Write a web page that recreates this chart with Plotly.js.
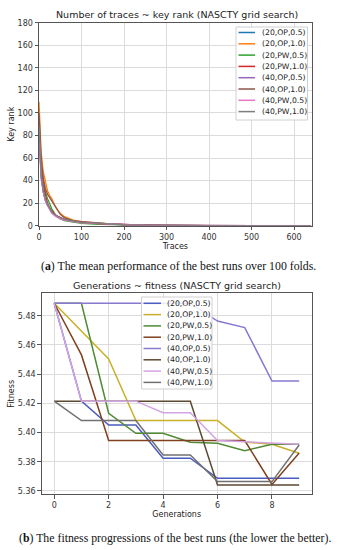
<!DOCTYPE html>
<html>
<head>
<meta charset="utf-8">
<script src="https://cdn.plot.ly/plotly-3.0.1.min.js"></script>
<style>html,body{margin:0;padding:0;background:#fff;}#chart{width:341px;height:550px;}</style>
</head>
<body>
<div id="chart"></div>
<script>
// ---------- data: chart (a) ----------
const seriesNames = ["(20,OP,0.5)","(20,OP,1.0)","(20,PW,0.5)","(20,PW,1.0)","(40,OP,0.5)","(40,OP,1.0)","(40,PW,0.5)","(40,PW,1.0)"];
const tracesX = [0, 2, 5, 10, 15, 20, 25, 30, 40, 50, 60, 80, 100, 130, 160, 200, 250, 300, 400, 500, 640];
const rank_20_OP_05 = [85, 62, 45, 30, 22, 18, 15, 12, 9, 7, 5.5, 4, 3, 2, 1.5, 0.8, 0.4, 0.2, 0.1, 0, 0];
const rank_20_OP_10 = [110, 85, 65, 48, 38, 31, 27, 24, 16, 11, 8, 5, 3.5, 2.5, 1.8, 1, 0.5, 0.2, 0.1, 0, 0];
const rank_20_PW_05 = [95, 75, 55, 40, 30, 24, 19, 15, 9, 6, 4.5, 3, 2, 1.5, 1, 0.6, 0.3, 0.1, 0, 0, 0];
const rank_20_PW_10 = [90, 68, 50, 35, 26, 20, 16, 13, 9, 7, 5.5, 3.8, 3, 2, 1.5, 0.8, 0.4, 0.2, 0.1, 0, 0];
const rank_40_OP_05 = [80, 58, 42, 30, 23, 19, 15, 12, 9, 7, 5.5, 4, 3, 2.2, 1.6, 0.9, 0.5, 0.2, 0.1, 0, 0];
const rank_40_OP_10 = [100, 80, 60, 42, 33, 28, 25, 22, 15, 10, 7, 4.5, 3.5, 2.5, 1.8, 1, 0.5, 0.2, 0.1, 0, 0];
const rank_40_PW_05 = [85, 62, 44, 30, 22, 18, 14, 11, 8, 6, 5, 3.5, 2.5, 2, 1.5, 0.8, 0.4, 0.2, 0.1, 0, 0];
const rank_40_PW_10 = [88, 65, 46, 32, 24, 19, 15, 12, 9, 7, 5.5, 4, 3, 2.2, 1.6, 0.9, 0.5, 0.2, 0.1, 0, 0];
const rankSeries = [rank_20_OP_05, rank_20_OP_10, rank_20_PW_05, rank_20_PW_10, rank_40_OP_05, rank_40_OP_10, rank_40_PW_05, rank_40_PW_10];

// ---------- data: chart (b) ----------
const generations = [0, 1, 2, 3, 4, 5, 6, 7, 8, 9];
const fit_20_OP_05 = [5.4886, 5.4215, 5.4052, 5.4052, 5.3824, 5.3824, 5.3687, 5.3687, 5.3687, 5.3687];
const fit_20_OP_10 = [5.4886, 5.4695, 5.4504, 5.4082, 5.4082, 5.4082, 5.4082, 5.3935, 5.3920, 5.3858];
const fit_20_PW_05 = [5.4886, 5.4886, 5.4132, 5.3995, 5.3995, 5.3933, 5.3926, 5.3876, 5.3920, 5.3920];
const fit_20_PW_10 = [5.4886, 5.4532, 5.3945, 5.3945, 5.3945, 5.3945, 5.3945, 5.3945, 5.3645, 5.3860];
const fit_40_OP_05 = [5.4886, 5.4886, 5.4886, 5.4886, 5.4886, 5.4886, 5.4764, 5.4719, 5.4353, 5.4353];
const fit_40_OP_10 = [5.4215, 5.4215, 5.4215, 5.4215, 5.4215, 5.4215, 5.3641, 5.3641, 5.3641, 5.3641];
const fit_40_PW_05 = [5.4886, 5.4215, 5.4215, 5.4215, 5.4136, 5.4136, 5.3945, 5.3935, 5.3925, 5.3920];
const fit_40_PW_10 = [5.4215, 5.4082, 5.4082, 5.4082, 5.3847, 5.3847, 5.3664, 5.3664, 5.3664, 5.3915];
const fitSeries = [fit_20_OP_05, fit_20_OP_10, fit_20_PW_05, fit_20_PW_10, fit_40_OP_05, fit_40_OP_10, fit_40_PW_05, fit_40_PW_10];

const colorsA = ["#1f77b4","#ff7f0e","#2ca02c","#d62728","#9467bd","#8c564b","#e377c2","#7f7f7f"];
const colorsB = ["#4a5cc0","#c8b028","#4f8a34","#80401f","#8878d0","#5c4a30","#d3a3e3","#707070"];

const W = 341, H = 550;
const px = x => x / W;
const py = y => 1 - y / H;

const data = [];
seriesNames.forEach((n, i) => {
  data.push({x: tracesX, y: rankSeries[i], type: "scatter", mode: "lines", name: n,
    line: {color: colorsA[i], width: 1.3}, xaxis: "x", yaxis: "y", showlegend: false});
});
seriesNames.forEach((n, i) => {
  data.push({x: generations, y: fitSeries[i], type: "scatter", mode: "lines", name: n,
    line: {color: colorsB[i], width: 1.5}, xaxis: "x2", yaxis: "y2", showlegend: false});
});

const font = "DejaVu Sans";
const axisCommon = {
  showgrid: true, gridcolor: "#dcdcdc", gridwidth: 1, zeroline: false,
  showline: true, mirror: true, linecolor: "#555", linewidth: 1,
  ticks: "outside", ticklen: 3.5, tickcolor: "#555", tickwidth: 1,
  tickfont: {family: font, size: 8, color: "#333"}, automargin: false
};

const shapes = [];
const annotations = [];

// chart titles
annotations.push({x: px(177), y: py(14), xref: "paper", yref: "paper", showarrow: false,
  text: "Number of traces ~ key rank (NASCTY grid search)", font: {family: font, size: 9.5, color: "#222"},
  xanchor: "center", yanchor: "middle"});
annotations.push({x: px(177), y: py(285), xref: "paper", yref: "paper", showarrow: false,
  text: "Generations ~ fitness (NASCTY grid search)", font: {family: font, size: 9.5, color: "#222"},
  xanchor: "center", yanchor: "middle"});

// captions
annotations.push({x: px(178), y: py(266), xref: "paper", yref: "paper", showarrow: false,
  text: "(<b>a</b>) The mean performance of the best runs over 100 folds.",
  font: {family: "Liberation Serif", size: 11.8, color: "#111"}, xanchor: "center", yanchor: "middle"});
annotations.push({x: px(174.5), y: py(538), xref: "paper", yref: "paper", showarrow: false,
  text: "(<b>b</b>) The fitness progressions of the best runs (the lower the better).",
  font: {family: "Liberation Serif", size: 11.8, color: "#111"}, xanchor: "center", yanchor: "middle"});

// custom legends built from the series name arrays
function legend(box, firstY, step, lineX0, lineX1, textX, colors) {
  shapes.push({type: "rect", xref: "paper", yref: "paper", x0: px(box[0]), x1: px(box[1]), y0: py(box[2]), y1: py(box[3]),
    line: {color: "#d0d0d0", width: 1}, fillcolor: "rgba(255,255,255,0.85)", layer: "above"});
  seriesNames.forEach((n, i) => {
    const y = firstY + i * step;
    shapes.push({type: "line", xref: "paper", yref: "paper", x0: px(lineX0), x1: px(lineX1), y0: py(y), y1: py(y),
      line: {color: colors[i], width: 1.5}, layer: "above"});
    annotations.push({x: px(textX), y: py(y), xref: "paper", yref: "paper", showarrow: false, text: n,
      font: {family: font, size: 7.7, color: "#222"}, xanchor: "left", yanchor: "middle"});
  });
}
legend([236, 307.5, 27, 120], 32.5, 11.3, 238.5, 255, 259.5, colorsA);
legend([141.5, 212, 297, 389], 303.3, 11.3, 143.5, 161, 165, colorsB);

const layout = {
  width: W, height: H, margin: {l: 0, r: 0, t: 0, b: 0},
  paper_bgcolor: "#fff", plot_bgcolor: "#fff", showlegend: false,
  xaxis: Object.assign({}, axisCommon, {domain: [px(39), px(311.7)], range: [0, 641.5], tickvals: [0,100,200,300,400,500,600],
    anchor: "y", title: {text: "Traces", font: {family: font, size: 8, color: "#222"}, standoff: 1}}),
  yaxis: Object.assign({}, axisCommon, {domain: [py(225.7), py(22.7)], range: [0, 180], tickvals: [0,20,40,60,80,100,120,140,160,180],
    anchor: "x", title: {text: "Key rank", font: {family: font, size: 8, color: "#222"}, standoff: 1}}),
  xaxis2: Object.assign({}, axisCommon, {domain: [px(41.7), px(311.7)], range: [-0.46, 9.46], tickvals: [0,2,4,6,8],
    anchor: "y2", title: {text: "Generations", font: {family: font, size: 8, color: "#222"}, standoff: 1}}),
  yaxis2: Object.assign({}, axisCommon, {domain: [py(494.3), py(293.3)], range: [5.3577, 5.4954],
    tickvals: [5.36,5.38,5.40,5.42,5.44,5.46,5.48], tickformat: ".2f",
    anchor: "x2", title: {text: "Fitness", font: {family: font, size: 8, color: "#222"}, standoff: 1}}),
  shapes: shapes, annotations: annotations
};

Plotly.newPlot("chart", data, layout, {staticPlot: true, displayModeBar: false});
</script>
</body>
</html>
